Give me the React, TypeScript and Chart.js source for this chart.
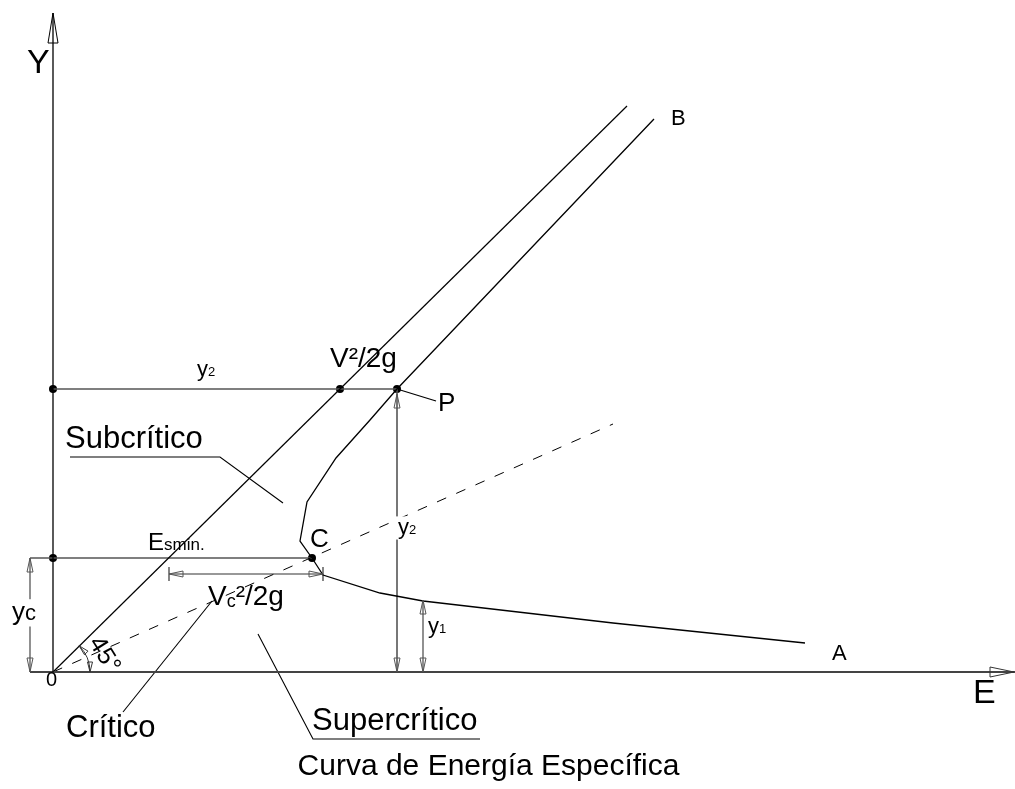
import React, { useEffect, useRef } from "react";
import { Chart, registerables } from "chart.js";

Chart.register(...registerables);

const FONT = "'Liberation Sans', Arial, Helvetica, sans-serif";
Chart.defaults.font.family = FONT;

// Specific-energy curve (E, y) from upper branch B down through P, C to lower branch A
const curveE = [601, 344, 317, 283, 254, 247, 259, 270, 327, 370, 560, 752];
const curveY = [553, 283, 252, 214, 170, 131, 114, 97, 79, 71, 49, 29];

// 45° line E = y
const line45E = [0, 574];
const line45Y = [0, 566];

// critical-depth (dashed) line through C
const critE = [0, 560];
const critY = [0, 248];

// axes
const yAxisE = [0, 0];
const yAxisY = [0, 659];
const xAxisE = [-23, 962];
const xAxisY = [0, 0];

// construction / dimension lines
const horizY2E = [0, 344];
const horizY2Y = [283, 283];
const horizYcE = [-23, 259];
const horizYcY = [114, 114];
const dimYcE = [-23, -23];
const dimYcY = [0, 114];
const dimPE = [344, 344];
const dimPY = [0, 283];
const dimY1E = [370, 370];
const dimY1Y = [0, 72];
const dimEsE = [116, 270];
const dimEsY = [98, 98];
const tickLE = [116, 116];
const tickLY = [91, 105];
const tickRE = [270, 270];
const tickRY = [91, 105];

// leader lines
const leaderSubE = [17, 167, 230];
const leaderSubY = [215, 215, 169];
const leaderSupE = [427, 260, 205];
const leaderSupY = [-67, -67, 38];
const leaderCritE = [70, 159];
const leaderCritY = [-40, 71];
const leaderPE = [344, 383];
const leaderPY = [283, 271];

// marked points
const dotsE = [0, 287, 344, 0, 259];
const dotsY = [283, 283, 283, 114, 114];

const caption = "Curva de Energía Específica";

type Run = [string, number, number?];
type Label = { runs: Run[]; e: number; y: number; bg?: boolean };

const labels: Label[] = [
  { runs: [["Y", 34]], e: -26, y: 599 },
  { runs: [["E", 34]], e: 920, y: -31 },
  { runs: [["0", 20]], e: -7, y: -14 },
  { runs: [["y", 26], ["c", 22]], e: -41, y: 52, bg: true },
  { runs: [["V²/2g", 28]], e: 277, y: 305 },
  { runs: [["P", 26]], e: 385, y: 261 },
  { runs: [["C", 26]], e: 257, y: 125 },
  { runs: [["B", 22]], e: 618, y: 547 },
  { runs: [["A", 22]], e: 779, y: 12 },
  { runs: [["y", 22], ["2", 13]], e: 144, y: 296 },
  { runs: [["y", 22], ["2", 13]], e: 345, y: 138, bg: true },
  { runs: [["y", 22], ["1", 13]], e: 375, y: 39 },
  { runs: [["E", 24], ["smin.", 17]], e: 95, y: 122 },
  { runs: [["V", 28], ["c", 18, 2], ["²/2g", 28]], e: 155, y: 67 },
  { runs: [["Subcrítico", 31]], e: 12, y: 224 },
  { runs: [["Crítico", 31]], e: 13, y: -65 },
  { runs: [["Supercrítico", 31]], e: 259, y: -58 },
];

// dimension arrowheads: tip (E, y) and direction in data space
const arrowTipsE = [-23, -23, 344, 344, 370, 370, 116, 270];
const arrowTipsY = [114, 0, 278, 0, 72, 0, 98, 98];
const arrowDirX = [0, 0, 0, 0, 0, 0, -1, 1];
const arrowDirY = [1, -1, 1, -1, 1, -1, 0, 0];

const pts = (xs: number[], ys: number[]) => xs.map((x, i) => ({ x, y: ys[i] }));

const seg = (label: string, xs: number[], ys: number[], color: string, width: number, dash: number[] = []) => ({
  type: "scatter" as const,
  label,
  data: pts(xs, ys),
  showLine: true,
  clip: false,
  borderColor: color,
  backgroundColor: color,
  borderWidth: width,
  borderDash: dash,
  pointRadius: 0,
  tension: 0,
});

const GRAY = "#555555";

const drawPlugin = {
  id: "diagramDecor",
  afterDatasetsDraw(chart: any) {
    const { ctx, scales } = chart;
    const xs = scales.x;
    const ys = scales.y;
    const px = (v: number) => xs.getPixelForValue(v);
    const py = (v: number) => ys.getPixelForValue(v);
    ctx.save();

    const arrow = (tx: number, ty: number, dx: number, dy: number, len: number, hw: number, color: string, lw: number) => {
      const n = Math.hypot(dx, dy);
      const ux = dx / n;
      const uy = dy / n;
      const bx = tx - ux * len;
      const by = ty - uy * len;
      ctx.beginPath();
      ctx.moveTo(tx, ty);
      ctx.lineTo(bx - uy * hw, by + ux * hw);
      ctx.lineTo(bx + uy * hw, by - ux * hw);
      ctx.closePath();
      ctx.strokeStyle = color;
      ctx.lineWidth = lw;
      ctx.stroke();
    };

    // axis arrows (hollow)
    arrow(px(yAxisE[1]), py(yAxisY[1]), 0, -1, 30, 5, "#000", 1);
    arrow(px(xAxisE[1]) - 1, py(0), 1, 0, 24, 5, "#333", 1);

    // dimension arrowheads
    arrowTipsE.forEach((e, i) => {
      arrow(px(e), py(arrowTipsY[i]), arrowDirX[i], -arrowDirY[i], 14, 3, GRAY, 1);
    });

    // 45° arc with arrowheads
    const cx = px(0);
    const cy = py(0);
    const r = px(37) - px(0);
    ctx.beginPath();
    ctx.arc(cx, cy, r, -Math.PI / 4, 0);
    ctx.strokeStyle = "#333";
    ctx.lineWidth = 1;
    ctx.stroke();
    arrow(cx + r, cy, 0, 1, 10, 2.5, "#333", 1);
    const a = -Math.PI / 4;
    arrow(cx + r * Math.cos(a), cy + r * Math.sin(a), Math.sin(a), -Math.cos(a), 10, 2.5, "#333", 1);

    // 45° rotated text
    ctx.save();
    ctx.translate(px(51), py(17));
    ctx.rotate((58 * Math.PI) / 180);
    ctx.font = `25px ${FONT}`;
    ctx.fillStyle = "#000";
    ctx.textAlign = "center";
    ctx.textBaseline = "middle";
    ctx.fillText("45°", 0, 0);
    ctx.restore();

    // labels
    ctx.textAlign = "left";
    ctx.textBaseline = "alphabetic";
    labels.forEach((lb) => {
      const x0 = px(lb.e);
      const y0 = py(lb.y);
      let w = 0;
      let maxSize = 0;
      lb.runs.forEach(([t, s]) => {
        ctx.font = `${s}px ${FONT}`;
        w += ctx.measureText(t).width;
        maxSize = Math.max(maxSize, s);
      });
      if (lb.bg) {
        ctx.fillStyle = "#ffffff";
        ctx.fillRect(x0 - 2, y0 - maxSize * 0.8, w + 4, maxSize * 1.05);
      }
      let cxx = x0;
      lb.runs.forEach(([t, s, dy]) => {
        ctx.font = `${s}px ${FONT}`;
        ctx.fillStyle = "#000";
        ctx.fillText(t, cxx, y0 + (dy || 0));
        cxx += ctx.measureText(t).width;
      });
    });

    ctx.restore();
  },
};

export default function App() {
  const ref = useRef<HTMLCanvasElement | null>(null);

  useEffect(() => {
    if (!ref.current) return;
    const chart = new Chart(ref.current, {
      type: "scatter",
      data: {
        datasets: [
          seg("yAxis", yAxisE, yAxisY, "#000", 1.3),
          seg("xAxis", xAxisE, xAxisY, "#444", 2),
          seg("45", line45E, line45Y, "#000", 1.2),
          seg("curve", curveE, curveY, "#000", 1.3),
          seg("critical", critE, critY, "#000", 1, [10, 11]),
          seg("hY2", horizY2E, horizY2Y, GRAY, 1.6),
          seg("hYc", horizYcE, horizYcY, GRAY, 1.6),
          seg("dYc", dimYcE, dimYcY, GRAY, 1.3),
          seg("dP", dimPE, dimPY, GRAY, 1.6),
          seg("dY1", dimY1E, dimY1Y, GRAY, 1.3),
          seg("dEs", dimEsE, dimEsY, "#333", 1.2),
          seg("tL", tickLE, tickLY, "#333", 1.2),
          seg("tR", tickRE, tickRY, "#333", 1.2),
          seg("lSub", leaderSubE, leaderSubY, "#000", 1.1),
          seg("lSup", leaderSupE, leaderSupY, "#000", 1.1),
          seg("lCrit", leaderCritE, leaderCritY, "#000", 1.1),
          seg("lP", leaderPE, leaderPY, "#000", 1.1),
          {
            type: "scatter" as const,
            label: "dots",
            data: pts(dotsE, dotsY),
            showLine: false,
            clip: false,
            pointRadius: 4,
            pointHoverRadius: 4,
            backgroundColor: "#000",
            borderColor: "#000",
            borderWidth: 0,
          },
        ] as any,
      },
      options: {
        animation: false,
        responsive: true,
        maintainAspectRatio: false,
        layout: { padding: { left: 0, top: 0, bottom: 0, right: 38 }, autoPadding: false },
        events: [],
        scales: {
          x: { type: "linear", display: false, min: -53, max: 924 },
          y: { type: "linear", display: false, min: -77, max: 672 },
        },
        plugins: {
          legend: { display: false },
          tooltip: { enabled: false },
          title: {
            display: true,
            text: caption,
            position: "bottom",
            color: "#000",
            font: { size: 30, weight: "normal", family: FONT, lineHeight: 1.2 },
            padding: { top: 0, bottom: 4 },
          },
        },
      },
      plugins: [drawPlugin],
    });
    return () => chart.destroy();
  }, []);

  return (
    <div style={{ position: "fixed", left: 0, top: 0, width: 1015, height: 789, background: "#fff" }}>
      <canvas ref={ref} />
    </div>
  );
}
